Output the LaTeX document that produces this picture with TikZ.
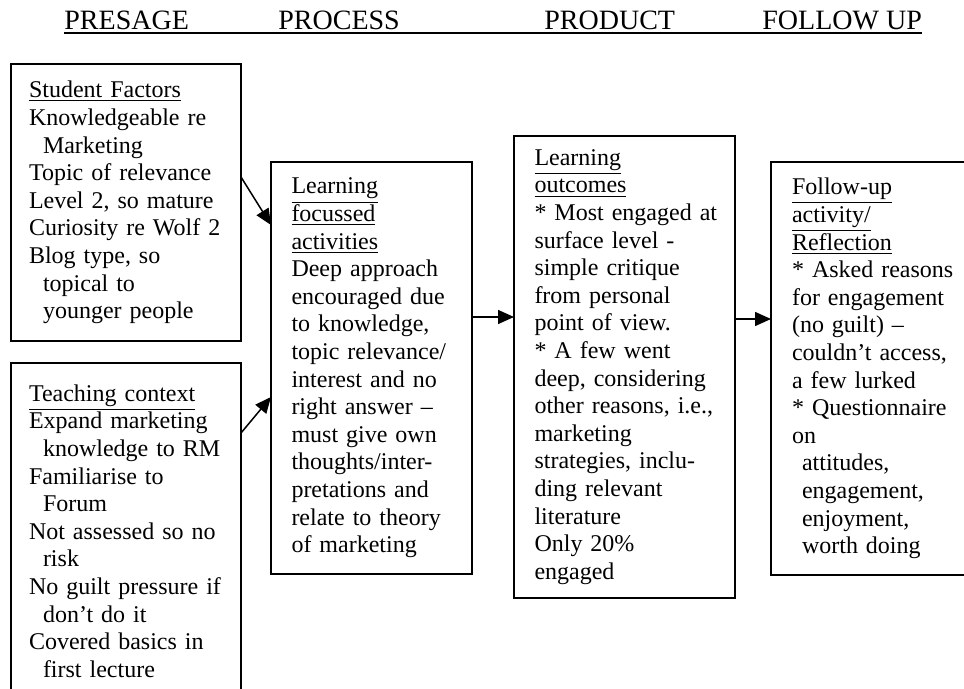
\documentclass[tikz,border=0pt]{standalone}
\usepackage{fontspec}
\setmainfont{Liberation Serif}
\usetikzlibrary{arrows.meta,positioning,calc}
\newcommand{\wrapind}{\hspace*{7pt}}
\tikzset{
	heading/.style={
		anchor=base west, inner sep=0pt, font=\fontsize{14}{16}\selectfont
	},
	%
	factorbox/.style={
		rectangle, draw=black, line width=1pt, outer sep=0pt, anchor=north west,
		align=left, text width=97pt, inner xsep=9pt, minimum height=138.5pt,
		font=\fontsize{12}{13.8}\selectfont
	},
	%
	stagebox/.style={
		rectangle, draw=black, line width=1pt, outer sep=0pt, anchor=north west,
		align=left, font=\fontsize{12}{13.8}\selectfont
	},
	%
	flow/.style={
		line width=0.75pt, -{Triangle[length=8pt,width=7pt]}
	}
}
\begin{document}
\begin{tikzpicture}[x=0.5pt, y=-0.5pt]
    \useasboundingbox (0,0) rectangle (964,689);
    \clip (0,0) rectangle (964,689);
    \node(Pre)[heading] at (64,29.5){PRESAGE};
    \node(Pro)[heading] at (278,29.5){PROCESS};
    \node(Prod)[heading] at (544,29.5){PRODUCT};
    \node(Fol)[heading] at (762,29.5){FOLLOW UP};
    \draw[line width=1pt] ([yshift=-2pt]Pre.base west) -- ([yshift=-2pt]Fol.base east);
    \node(SF)[factorbox] at (11,64){\underline{Student Factors}\\Knowledgeable re\\\wrapind Marketing\\Topic of relevance\\Level 2, so mature\\Curiosity re Wolf 2\\Blog type, so\\\wrapind topical to\\\wrapind younger people};
    \node(TC)[factorbox, below=11pt of SF, minimum height=168pt]{\underline{Teaching context}\\Expand marketing\\\wrapind knowledge to RM\\Familiarise to\\\wrapind Forum\\Not assessed so no\\\wrapind risk\\No guilt pressure if\\\wrapind don't do it\\Covered basics in\\\wrapind first lecture};
    \node(LA)[stagebox, text width=80pt, inner xsep=10.25pt, minimum height=206pt] at (271,162){\underline{Learning}\\\underline{focussed}\\\underline{activities}\\Deep approach\\encouraged due\\to knowledge,\\topic relevance/\\interest and no\\right answer --\\must give own\\thoughts/inter-\\pretations and\\relate to theory\\of marketing};
    \node(LO)[stagebox, text width=90pt, inner xsep=10.25pt, minimum height=231pt] at (514,136){\underline{Learning}\\\underline{outcomes}\\\mbox{{*} Most engaged at}\\surface level -\\simple critique\\from personal\\point of view.\\{*} A few went\\deep, considering\\other reasons, i.e.,\\marketing\\strategies, inclu-\\ding relevant\\literature\\Only 20\%\\engaged};
    \node(FU)[stagebox, text width=86pt, inner xsep=10.5pt, minimum height=206.5pt] at (771,162){\underline{Follow-up}\\\underline{activity/}\\\underline{Reflection}\\{*} Asked reasons\\for engagement\\(no guilt) --\\couldn't access,\\a few lurked\\{*} Questionnaire\\on\\\hspace*{5pt}attitudes,\\\hspace*{5pt}engagement,\\\hspace*{5pt}enjoyment,\\\hspace*{5pt}worth doing};
    \draw[flow] ([yshift=-56.5pt]SF.north east) -- ([yshift=-31.5pt]LA.north west);
    \draw[flow] ([yshift=-35pt]TC.north east) -- ([yshift=-117.5pt]LA.north west);
    \coordinate(LAout) at ([yshift=-77.5pt]LA.north east);
    \draw[flow] (LAout) -- (LAout -| LO.west);
    \coordinate(LOout) at ([yshift=-91.5pt]LO.north east);
    \draw[flow] (LOout) -- (LOout -| FU.west);
\end{tikzpicture}
\end{document}
